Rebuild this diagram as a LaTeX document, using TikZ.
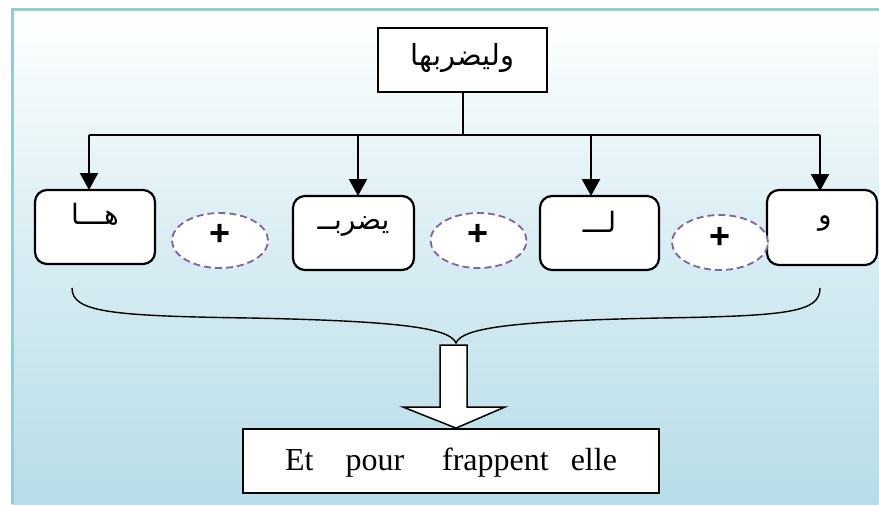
\documentclass[tikz,border=0pt]{standalone}
\usepackage{fontspec}
\setmainfont{Liberation Serif}
\newfontfamily\arabicfont[Script=Arabic]{DejaVu Sans}
\newfontfamily\plusfont{Liberation Sans}
\TeXXeTstate=1
\usetikzlibrary{arrows.meta,shapes.geometric}
\definecolor{frameblue}{HTML}{92CDDC}
\definecolor{bgblue}{HTML}{B7DDE8}
\definecolor{dashpurple}{HTML}{8064A2}
\tikzset{
  wordbox/.style={draw=black, line width=2.2pt, fill=white, rounded corners=12pt},
  plusring/.style={ellipse, draw=dashpurple, line width=1.8pt, fill=white,
                   dash pattern=on 7pt off 4pt, minimum width=96pt, minimum height=55pt,
                   inner sep=0pt},
  arr/.style={line width=2.2pt, -{Triangle[width=18pt,length=17pt]}},
  link/.style={line width=2pt},
  parttext/.style={font=\arabicfont\fontsize{28}{32}\selectfont, inner sep=0pt},
  plustext/.style={font=\plusfont\bfseries\fontsize{36}{38}\selectfont, inner sep=0pt},
}
\begin{document}
\begin{tikzpicture}[x=1pt,y=-1pt]
\useasboundingbox (0,0) rectangle (879,504);
% page background with gradient and frame
\fill[white] (0,0) rectangle (879,504);
\shade[top color=white, bottom color=bgblue, middle color=white!45!bgblue] (12,9) rectangle (879,504);
\draw[frameblue, line width=3pt] (12,504) -- (12,9) -- (879,9);

% whole word
\node[draw=black, line width=2.2pt, fill=white, minimum width=169pt, minimum height=64pt,
      inner sep=0pt] (top) at (462.5,60) {};
\node[font=\arabicfont\fontsize{29}{33}\selectfont, inner sep=0pt] at (462.5,58)
  {\beginR وليضربها\endR};

% parts
\path[wordbox] (35,190) rectangle (155,264);
\node[inner sep=0pt] (b1) at (95,227) {};
\node[parttext] (t1) at (95,214) {\beginR هـــا\endR};
\path[wordbox] (293,196) rectangle (414,270);
\node[inner sep=0pt] (b2) at (353.5,233) {};
\node[parttext] (t2) at (353.5,226) {\beginR يضربــ\endR};
\path[wordbox] (540,196) rectangle (659,270);
\node[inner sep=0pt] (b3) at (599.5,233) {};
\node[parttext] (t3) at (599.5,222) {\beginR لـــ\endR};
\path[wordbox] (767,190) rectangle (877,265);
\node[inner sep=0pt] (b4) at (822,227) {};
\node[parttext] (t4) at (825,223) {\beginR و\endR};

% anchors of the box tops
\coordinate (n1) at (89,190);
\coordinate (n2) at (358,196);
\coordinate (n3) at (591,196);
\coordinate (n4) at (820,191);

% plus signs
\node[plusring] (p1) at (220,240.5) {};
\node[plusring] (p2) at (478.5,240.5) {};
\node[plusring] (p3) at (720,242.5) {};
\node[plustext] at ([yshift=6pt]p1) {+};
\node[plustext] at ([yshift=6pt]p2) {+};
\node[plustext] at ([yshift=5pt]p3) {+};

% tree connectors
\coordinate (bus) at (top.south |- 0,135);
\coordinate (j1) at (89,135);
\coordinate (j2) at (358,135);
\coordinate (j3) at (591,135);
\coordinate (j4) at (820,135);
\draw[link] (top.south) -- (bus);
\draw[link] (j1) -- (j4);
\draw[arr] (j1) -- (n1);
\draw[arr] (j2) -- (n2);
\draw[arr] (j3) -- (n3);
\draw[arr] (j4) -- (n4);

% brace gathering the parts
\coordinate (bl) at (72,288);
\coordinate (br) at (820,288);
\coordinate (tip) at (456,343);
\draw[line width=1.4pt] (bl) .. controls (72,312) and (110,316) .. (250,318)
  .. controls (400,321) and (450,328) .. (tip)
  .. controls (462,328) and (512,321) .. (660,318)
  .. controls (790,316) and (820,312) .. (br);

% translation
\node[draw=black, line width=1.8pt, fill=white, minimum width=416pt, minimum height=64pt,
      inner sep=0pt] (tr) at (451,461) {};
\node[font=\fontsize{32}{36}\selectfont, inner sep=0pt, anchor=base] at (451,470)
  {Et\hspace{32pt}pour\hspace{38pt}frappent\hspace{22pt}elle};

% block arrow
\draw[line width=1.5pt, fill=white, line join=miter]
  (440,345) -- (467,345) -- (467,407) -- (505,407) -- (tr.north -| tip)
  -- (403,407) -- (440,407) -- cycle;
\end{tikzpicture}
\end{document}
